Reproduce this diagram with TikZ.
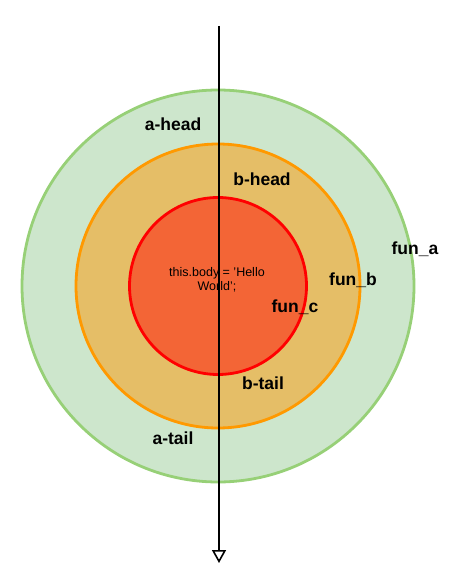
\documentclass[tikz,border=0pt]{standalone}
\usepackage{fontspec}
\setmainfont{Liberation Sans}
\usetikzlibrary{arrows.meta}
\definecolor{ringa}{HTML}{CDE6CC}
\definecolor{ringaline}{HTML}{97D077}
\definecolor{ringb}{HTML}{E5BE67}
\definecolor{ringbline}{HTML}{FF9900}
\definecolor{ringc}{HTML}{F36536}
\definecolor{ringcline}{HTML}{FF0000}
\begin{document}
\begin{tikzpicture}
[x=1pt,y=-1pt,>={Triangle[open,fill=white,length=13pt,width=14pt]},
ring/.style = {draw, circle, line width=2.8pt, inner sep=0pt},
lbl/.style = {font=\fontsize{17.5}{20}\selectfont\bfseries},]
\useasboundingbox (0,0) rectangle (454,588);
\node (funa) at (218,286)[ring,fill=ringa,draw=ringaline,minimum size=392pt] {};
\node (funb) at (218,286)[ring,fill=ringb,draw=ringbline,minimum size=284pt] {};
\node (func) at (218,286)[ring,fill=ringc,draw=ringcline,minimum size=177pt] {};
\node (body) at (217,280)[align=center,font=\fontsize{12.5}{14}\selectfont] {this.body = 'Hello\\World';};
\coordinate (top) at (219,26);
\coordinate (bottom) at (219,563);
\draw[->,line width=1.6pt] (top)--(bottom);
\node (ahead) at (173,124)[lbl] {a-head};
\node (bhead) at (262,179)[lbl] {b-head};
\node (labela) at (415,249)[lbl] {fun\_a};
\node (labelb) at (353,280)[lbl] {fun\_b};
\node (labelc) at (295,307)[lbl] {fun\_c};
\node (btail) at (263,383)[lbl] {b-tail};
\node (atail) at (173,438)[lbl] {a-tail};
\end{tikzpicture}
\end{document}
